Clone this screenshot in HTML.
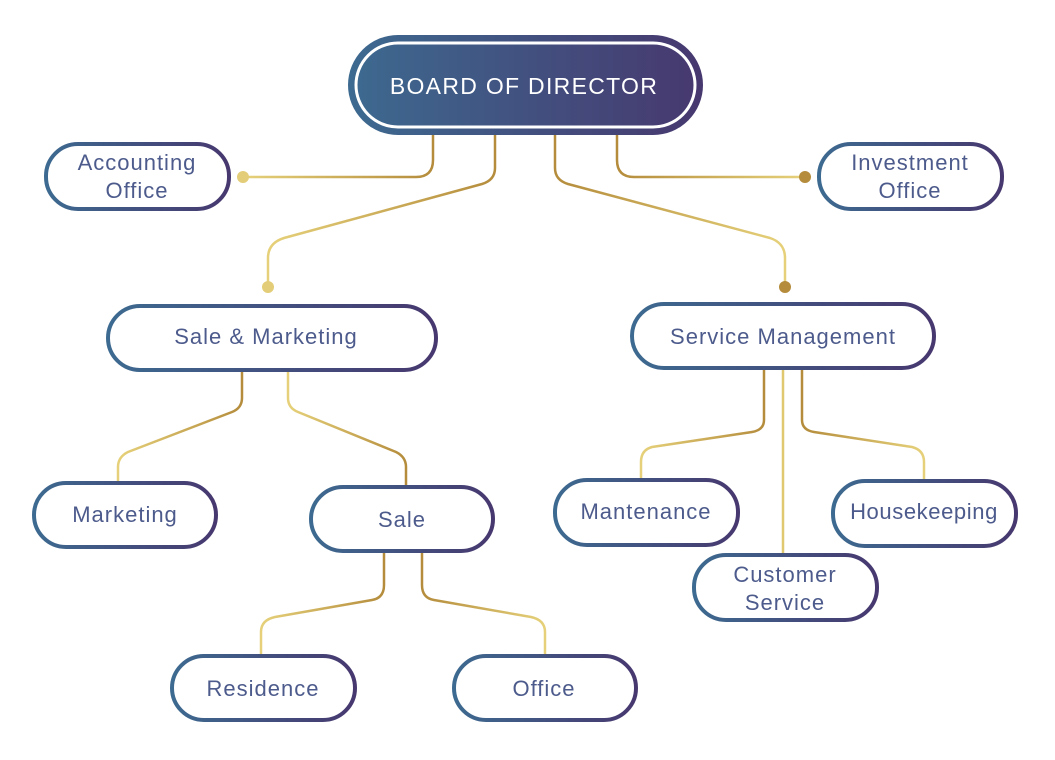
<!DOCTYPE html>
<html><head><meta charset="utf-8"><style>
html,body{margin:0;padding:0;background:#fff;}
svg{display:block;}
text{font-family:"Liberation Sans",sans-serif;fill:#4d5b8c;font-size:22px;letter-spacing:1px;text-anchor:middle;}
</style></head><body>
<svg width="1055" height="760" viewBox="0 0 1055 760" xmlns="http://www.w3.org/2000/svg">
<defs>
<linearGradient id="bg" x1="0" x2="1" y1="0" y2="0"><stop offset="0" stop-color="#3d6a90"/><stop offset="1" stop-color="#47386f"/></linearGradient>
<linearGradient id="gl" x1="0" x2="1" y1="0" y2="0" gradientUnits="objectBoundingBox"><stop offset="0" stop-color="#e6d17a"/><stop offset="1" stop-color="#b48c3c"/></linearGradient>
<linearGradient id="gr" x1="0" x2="1" y1="0" y2="0"><stop offset="0" stop-color="#b48c3c"/><stop offset="1" stop-color="#e6d17a"/></linearGradient>
</defs>
<g fill="none" stroke-width="2.5" stroke-linecap="round">
<path d="M433 135 V160 Q433 177 416 177 H243" stroke="url(#gl)"/>
<path d="M495 135 V168 Q495 180 482 184 L284 238 Q268 243 268 258 V287" stroke="url(#gl)"/>
<path d="M555 135 V168 Q555 180 568 184 L770 238 Q785 243 785 258 V287" stroke="url(#gr)"/>
<path d="M617 135 V160 Q617 177 634 177 H805" stroke="url(#gr)"/>
<path d="M242 370 V398 Q242 408 232 412 L128 452 Q118 457 118 467 V482" stroke="url(#gl)"/>
<path d="M288 370 V398 Q288 408 298 412 L396 452 Q406 457 406 467 V486" stroke="url(#gl)"/>
<path d="M764 369 V420 Q764 430 752 432 L652 447 Q641 450 641 462 V479" stroke="url(#gl)"/>
<path d="M783 369 V554" stroke="#e0c870"/>
<path d="M802 369 V420 Q802 430 814 432 L912 447 Q924 450 924 462 V480" stroke="url(#gr)"/>
<path d="M384 552 V585 Q384 598 372 600 L275 617 Q261 620 261 632 V655" stroke="url(#gl)"/>
<path d="M422 552 V585 Q422 598 434 600 L531 617 Q545 620 545 632 V655" stroke="url(#gr)"/>
</g>
<circle cx="243" cy="177" r="6" fill="#e3cd78"/>
<circle cx="805" cy="177" r="6" fill="#b48c3c"/>
<circle cx="268" cy="287" r="6" fill="#e3cd78"/>
<circle cx="785" cy="287" r="6" fill="#b48c3c"/>
<rect x="348" y="35" width="355" height="100" rx="50" fill="url(#bg)"/>
<rect x="356" y="43" width="339" height="84" rx="42" fill="none" stroke="#fff" stroke-width="3"/>
<text x="524" y="94" style="fill:#fff;font-size:23px;letter-spacing:1.3px;">BOARD  OF DIRECTOR</text>
<g fill="#fff" stroke="url(#bg)" stroke-width="4">
<rect x="46" y="144" width="183" height="65" rx="32"/>
<rect x="819" y="144" width="183" height="65" rx="32"/>
<rect x="108" y="306" width="328" height="64" rx="32"/>
<rect x="632" y="304" width="302" height="64" rx="32"/>
<rect x="34" y="483" width="182" height="64" rx="32"/>
<rect x="311" y="487" width="182" height="64" rx="32"/>
<rect x="555" y="480" width="183" height="65" rx="32"/>
<rect x="833" y="481" width="183" height="65" rx="32"/>
<rect x="694" y="555" width="183" height="65" rx="32"/>
<rect x="172" y="656" width="183" height="64" rx="32"/>
<rect x="454" y="656" width="182" height="64" rx="32"/>
</g>
<text x="137" y="170">Accounting</text><text x="137" y="198">Office</text>
<text x="910" y="170">Investment</text><text x="910" y="198">Office</text>
<text x="266" y="344">Sale &amp; Marketing</text>
<text x="783" y="344">Service Management</text>
<text x="125" y="522">Marketing</text>
<text x="402" y="527">Sale</text>
<text x="646" y="519">Mantenance</text>
<text x="924" y="519" style="letter-spacing:0.6px">Housekeeping</text>
<text x="785" y="582">Customer</text><text x="785" y="610">Service</text>
<text x="263" y="696">Residence</text>
<text x="544" y="696">Office</text>
</svg>
</body></html>
